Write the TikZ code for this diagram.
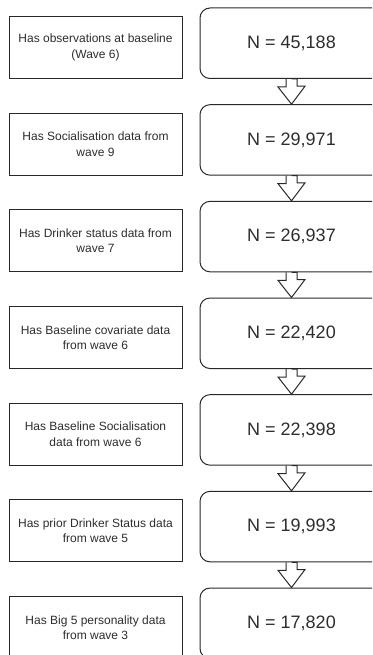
\documentclass[tikz,border=0pt]{standalone}
\usepackage{fontspec}
\setmainfont{Liberation Sans}
\usetikzlibrary{positioning}
\definecolor{boxline}{RGB}{40,40,40}
\definecolor{boxtext}{RGB}{45,45,45}

\begin{document}
\begin{tikzpicture}[x=1pt, y=-1pt,
  countbox/.style={draw=boxline, line width=1pt, rounded corners=10pt,
    minimum width=183pt, minimum height=70.5pt, inner sep=0pt,
    text=boxtext, font=\fontsize{18}{21}\selectfont},
  critbox/.style={draw=boxline, line width=1pt, minimum width=173pt,
    minimum height=62pt, inner sep=0pt, align=center,
    text=boxtext, font=\fontsize{12}{15.5}\selectfont},
  flowarrow/.style={draw=boxline, line width=1pt, line join=miter}]
  \useasboundingbox (0,0) rectangle (372,655);
  \clip (0,0) rectangle (372,655);
  \foreach \i/\crit/\num [evaluate=\i as \ypos using 43.25+(\i-1)*96.67] in {
      1/{Has observations at baseline\\(Wave 6)}/{45,188},
      2/{Has Socialisation data from\\wave 9}/{29,971},
      3/{Has Drinker status data from\\wave 7}/{26,937},
      4/{Has Baseline covariate data\\from wave 6}/{22,420},
      5/{Has Baseline Socialisation\\data from wave 6}/{22,398},
      6/{Has prior Drinker Status data\\from wave 5}/{19,993},
      7/{Has Big 5 personality data\\from wave 3}/{17,820}} {
    \node[countbox] (n\i) at (291.5,\ypos) {N = \num};
    \node[critbox, left=17pt of n\i.south west, anchor=south east] (c\i) {\crit};
  }
  \foreach \i [evaluate=\i as \j using int(\i+1)] in {1,...,6} {
    \draw[flowarrow] (n\i.south) ++(-5.5,0) -- ++(0,8) -- ++(-8,0)
      -- (n\j.north) -- ++(13.5,-18) -- ++(-8,0) |- (n\i.south);
  }
\end{tikzpicture}
\end{document}
